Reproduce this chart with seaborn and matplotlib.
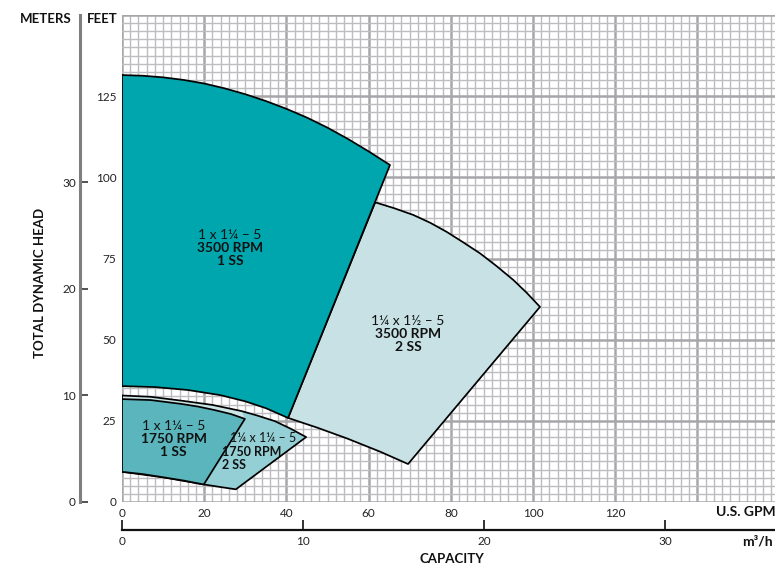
import numpy as np
import pandas as pd
import matplotlib
matplotlib.use("Agg")
import matplotlib.pyplot as plt
from matplotlib.ticker import MultipleLocator
import seaborn as sns

# ---------------- data (GPM, feet) ----------------
r1_top_gpm = [0, 5, 10, 15, 20, 25, 30, 35, 40, 45, 50, 55, 60, 65.2]
r1_top_ft = [131.5, 131.3, 130.8, 130.0, 128.9, 127.4, 125.6, 123.5, 121.1,
             118.4, 115.3, 111.8, 108.0, 103.8]
r1_bot_gpm = [0, 8, 16, 24, 30, 35, 40.4]
r1_bot_ft = [35.7, 35.4, 34.5, 32.9, 31.0, 28.9, 25.9]

r2_top_gpm = [61.6, 66.2, 70.9, 75.0, 79.0, 83.0, 87.1, 91.1, 95.2, 98.5, 101.7]
r2_top_ft = [92.3, 90.5, 88.4, 86.0, 83.2, 80.0, 76.6, 72.7, 68.4, 64.4, 60.1]
r2_bot_gpm = [40.4, 47.5, 54.7, 62.8, 69.6]
r2_bot_ft = [25.9, 22.9, 19.6, 15.5, 11.7]

r3_top_gpm = [0, 7, 14.5, 18.5, 22.6, 26.5, 29.9]
r3_top_ft = [31.7, 31.4, 30.2, 29.4, 28.3, 27.1, 25.6]
r3_bot_gpm = [0, 5, 10.1, 15, 19.9]
r3_bot_ft = [9.3, 8.6, 7.6, 6.6, 5.4]

r4_top_gpm = [0, 7, 14.5, 22, 29.1, 33, 37.2, 41, 44.8]
r4_top_ft = [32.8, 32.4, 31.2, 29.9, 28.0, 26.6, 24.9, 22.6, 20.0]
r4_bot_gpm = [0, 10.1, 19.9, 24, 27.7]
r4_bot_ft = [9.3, 7.6, 5.4, 4.6, 3.9]

gpm_ticks = [0, 20, 40, 60, 80, 100, 120]
ft_ticks = [0, 25, 50, 75, 100, 125]
m_ticks = [0, 10, 20, 30]
m3h_ticks = [0, 10, 20, 30]

labels = {
    "r1": ["1 x 1¼ – 5", "3500 RPM", "1 SS"],
    "r2": ["1¼ x 1½ – 5", "3500 RPM", "2 SS"],
    "r3": ["1 x 1¼ – 5", "1750 RPM", "1 SS"],
    "r4": ["1¼ x 1¼ – 5", "1750 RPM", "2 SS"],
}

colors = {"r1": "#00a6ad", "r2": "#c7e1e4", "r3": "#5ab5bc",
          "r4": "#93cfd4", "band": "#cde5e7"}

FT_PER_M = 3.2808
GPM_PER_M3H = 4.4029

# ---------------- style ----------------
sns.set_theme(style="white")
plt.rcParams["font.family"] = ["Lato", "DejaVu Sans"]

W, H = 775, 567
fig = plt.figure(figsize=(W / 100, H / 100), dpi=100)
ax = fig.add_axes([122 / W, 65 / H, 657.6 / W, 487 / H])
ax.set_xlim(0, 160)
ax.set_ylim(0, 150)


def polygon(top_x, top_y, bot_x, bot_y):
    xs = list(top_x) + list(bot_x[::-1]) + [top_x[0]]
    ys = list(top_y) + list(bot_y[::-1]) + [top_y[0]]
    return pd.DataFrame({"gpm": xs, "ft": ys})


def draw(df, color, z, edge=True, fill=True):
    if fill:
        ax.fill(df["gpm"], df["ft"], color=color, lw=0, zorder=z)
    if edge:
        sns.lineplot(data=df, x="gpm", y="ft", sort=False, estimator=None,
                     color="black", lw=1.25, zorder=z + 0.5, ax=ax,
                     solid_joinstyle="round")


p1 = polygon(r1_top_gpm, r1_top_ft, r1_bot_gpm, r1_bot_ft)
p2 = polygon(r2_top_gpm, r2_top_ft, r2_bot_gpm, r2_bot_ft)
p3 = polygon(r3_top_gpm, r3_top_ft, r3_bot_gpm, r3_bot_ft)
p4 = polygon(r4_top_gpm, r4_top_ft, r4_bot_gpm, r4_bot_ft)
n_band = sum(1 for g in r4_top_gpm if g <= max(r3_top_gpm))
band = polygon(r4_top_gpm[:n_band], r4_top_ft[:n_band], r3_top_gpm, r3_top_ft)

draw(p2, colors["r2"], 2)
draw(p1, colors["r1"], 4)
draw(p4, colors["r4"], 6, edge=False)
draw(band, colors["band"], 7, edge=False)
draw(p4, None, 7.6, fill=False)
draw(p3, colors["r3"], 9)

# ---------------- grid ----------------
ax.set_axisbelow(True)
ax.xaxis.set_minor_locator(MultipleLocator(2))
ax.yaxis.set_minor_locator(MultipleLocator(2.5))
ax.grid(which="minor", color="#bcbcc1", lw=1.0)
ax.grid(which="major", color="#a6a6ab", lw=1.8)
for s in ax.spines.values():
    s.set_visible(False)
ax.set_xticks(gpm_ticks + [140, 160])
ax.set_xticklabels([str(t) for t in gpm_ticks] + ["", ""])
ax.set_yticks(ft_ticks + [150])
ax.set_yticklabels([str(t) for t in ft_ticks] + [""])
ax.tick_params(which="both", length=0, labelsize=8.5, colors="#222222")
ax.tick_params(axis="x", pad=4)
ax.tick_params(axis="y", pad=4)
ax.set_xlabel("")
ax.set_ylabel("")

# meters axis
sec_y = ax.secondary_yaxis(-42 / 657.6,
                           functions=(lambda f: f / FT_PER_M, lambda m: m * FT_PER_M))
sec_y.set_yticks(m_ticks)
sec_y.set_yticklabels([str(t) for t in m_ticks])
sec_y.tick_params(direction="in", length=6, width=1.2, color="#333333",
                  labelsize=8.5, pad=3, labelcolor="#222222")
sec_y.spines["left"].set_color("#7f7f7f")
sec_y.spines["left"].set_linewidth(2.2)

# m3/h axis
sec_x = ax.secondary_xaxis(-28 / 487,
                           functions=(lambda g: g / GPM_PER_M3H, lambda q: q * GPM_PER_M3H))
sec_x.set_xticks(m3h_ticks)
sec_x.set_xticklabels([str(t) for t in m3h_ticks])
sec_x.tick_params(direction="in", length=7, width=1.2, color="#111111",
                  labelsize=8.5, pad=4, labelcolor="#222222")
sec_x.spines["bottom"].set_color("#111111")
sec_x.spines["bottom"].set_linewidth(1.6)

# ---------------- region labels ----------------
def region_text(x, y, lines, size=10, step=4.0, xs=None):
    for i, t in enumerate(lines):
        xx = x if xs is None else xs[i]
        hh = "center" if (xs is None or i == 0) else "left"
        ax.text(xx, y - i * step, t, ha=hh, va="center", fontsize=size,
                fontweight="normal" if i == 0 else "bold", color="#111111",
                zorder=20)


region_text(26.3, 82.2, labels["r1"])
region_text(69.6, 55.7, labels["r2"])
region_text(12.6, 23.3, labels["r3"], step=3.9)
region_text(34.3, 19.6, labels["r4"], size=9, step=4.1, xs=[34.3, 24.4, 24.4])

# ---------------- axis titles ----------------
def ftext(x, y, s, size=9.5, **kw):
    fig.text(x / W, 1 - y / H, s, fontweight="bold", fontsize=size,
             color="#111111", **kw)


ftext(72, 19, "METERS", ha="right", va="center")
ftext(87, 19, "FEET", ha="left", va="center")
ftext(716, 512, "U.S. GPM", size=10, ha="left", va="center")
ftext(742, 541, "m³/h", size=10, ha="left", va="center")
ftext(452, 559, "CAPACITY", ha="center", va="center")
ftext(40, 283, "TOTAL DYNAMIC HEAD", ha="center", va="center", rotation=90)

fig.savefig("out.png", dpi=100)
